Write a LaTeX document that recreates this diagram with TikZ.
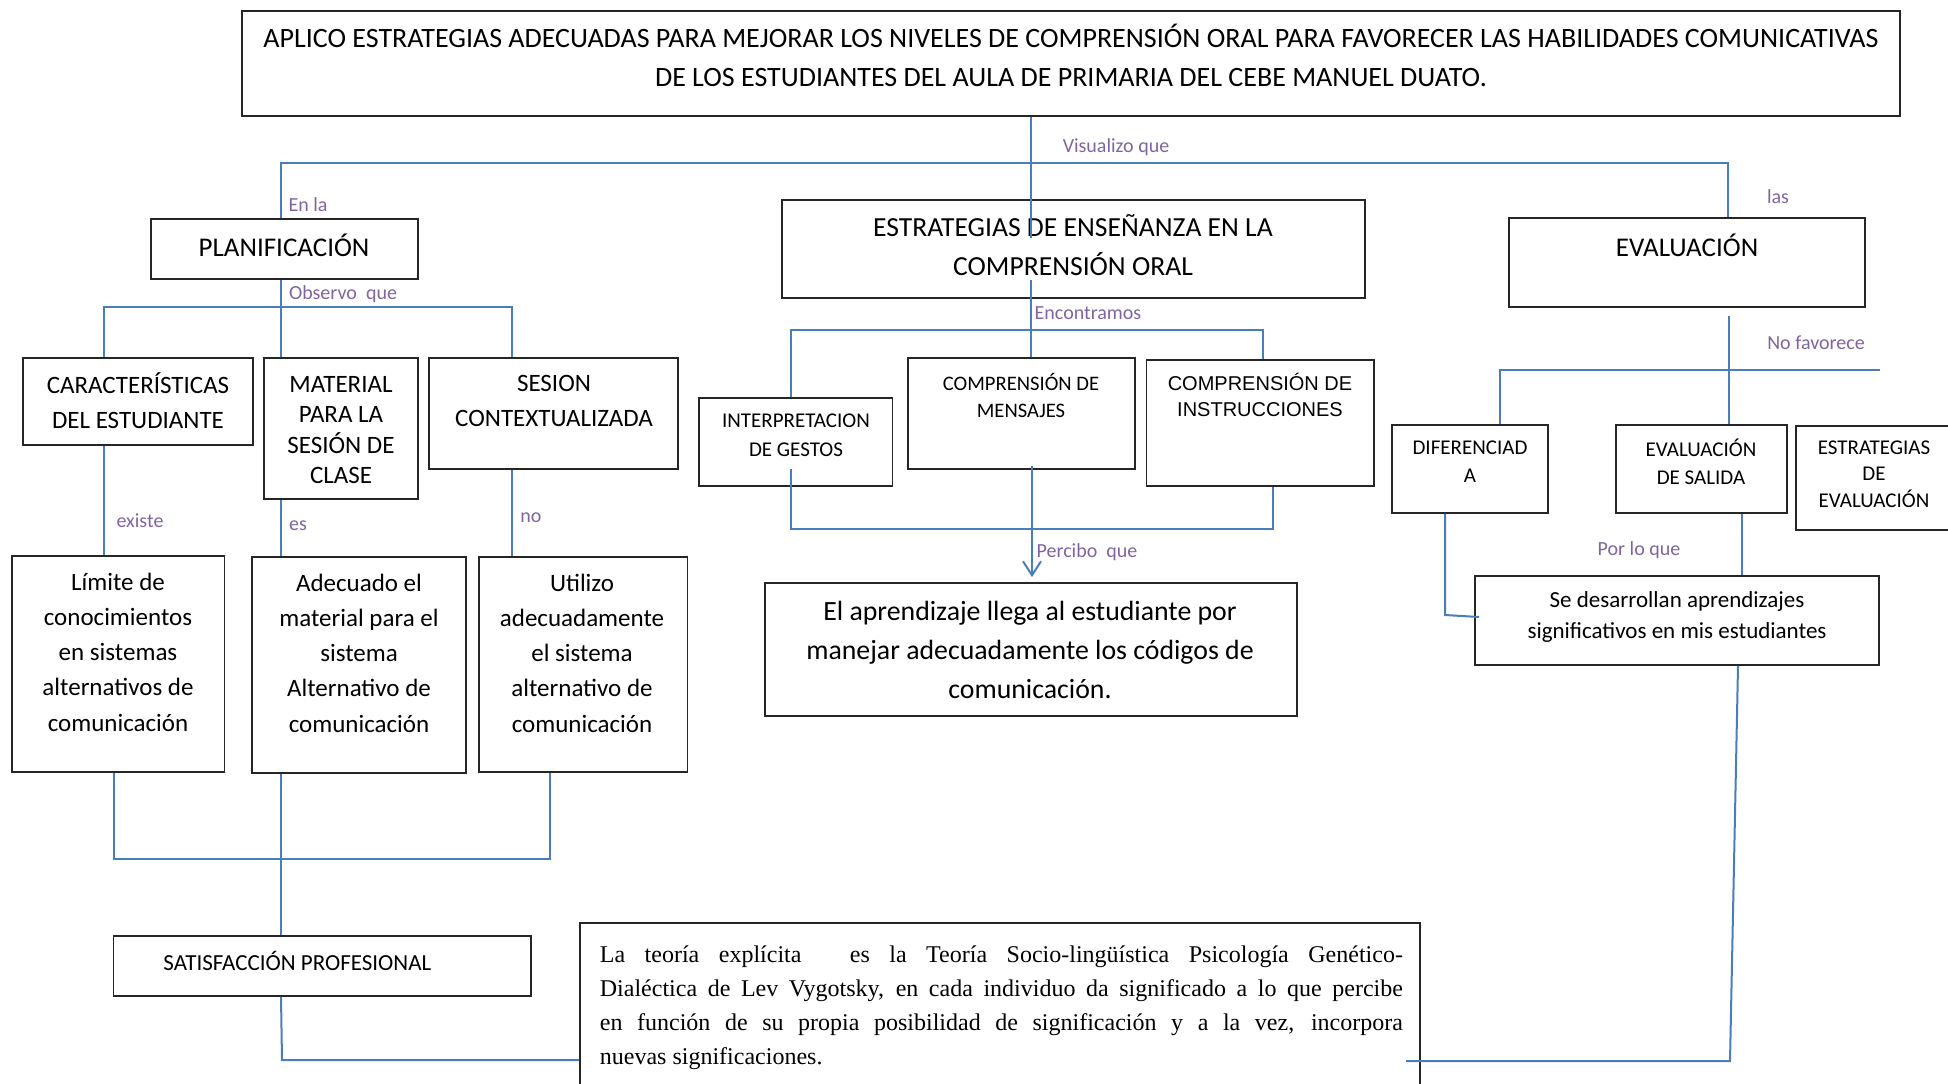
\documentclass[tikz,border=0pt]{standalone}
\usepackage{fontspec}
\setmainfont{Carlito}
\newfontfamily\tnrfont{Liberation Serif}
\newfontfamily\arialfont{Liberation Sans}
\usetikzlibrary{arrows.meta,fit}
\definecolor{connblue}{HTML}{4A7EBB}
\definecolor{lblpurple}{HTML}{8064A2}
\newcommand{\fsz}[2]{\fontsize{#1}{#2}\selectfont}
\begin{document}
\begin{tikzpicture}[x=0.5pt,y=-0.5pt,
  box/.style={draw=black!85, line width=0.9pt, inner sep=0pt},
  conn/.style={draw=connblue, line width=1pt},
  lbl/.style={text=lblpurple, font=\fsz{10}{12}, inner sep=0pt},
  txt/.style={align=center, inner sep=0pt},
]
\useasboundingbox (0,0) rectangle (1948,1083);
\clip (0,0) rectangle (1948,1083);

% ---------- boxes ----------
\node[box, fit={(242,11) (1900,116)}] (title) {};
\node[box, fit={(151,219) (418,279)}] (plan) {};
\node[box, fit={(782,200) (1365,298)}] (estr) {};
\node[box, fit={(1509,218) (1865,307)}] (eval) {};
\node[box, fit={(23,358) (253,445)}] (car) {};
\node[box, fit={(264,358) (418,499)}] (mat) {};
\node[box, fit={(429,358) (678,469)}] (ses) {};
\node[box, fit={(12,556) (224.5,772)}] (lim) {};
\node[box, fit={(252,557) (466,773)}] (ade) {};
\node[box, fit={(478.6,557) (687.5,772)}] (uti) {};
\node[box, fit={(699,398) (892.5,486)}] (int) {};
\node[box, fit={(907.7,358) (1135,469)}] (men) {};
\node[box, fit={(1146.5,360) (1374,486)}] (ins) {};
\node[box, fit={(765,583) (1297,716)}] (apr) {};
\node[box, fit={(1392,425) (1548,513)}] (dif) {};
\node[box, fit={(1616,425) (1787,513)}] (sal) {};
\node[box, fit={(1796,426) (2010,530)}] (ese) {};
\node[box, fit={(1475,576) (1879,665)}] (des) {};
\node[box, fit={(113.5,936) (531,996)}] (sat) {};
\node[box, fit={(580,923) (1420,1130)}] (teo) {};

% ---------- texts ----------
\node[txt, font=\fsz{14}{19.5}] (title-t) at (1071,55) {APLICO ESTRATEGIAS ADECUADAS PARA MEJORAR LOS NIVELES DE COMPRENSIÓN ORAL PARA FAVORECER LAS HABILIDADES COMUNICATIVAS\\DE LOS ESTUDIANTES DEL AULA DE PRIMARIA DEL CEBE MANUEL DUATO.};
\node[txt, font=\fsz{13.5}{16}] (plan-t) at (284,245) {PLANIFICACIÓN};
\node[txt, font=\fsz{13.8}{19.5}] (estr-t) at (1073,245.5) {ESTRATEGIAS DE ENSEÑANZA EN LA\\COMPRENSIÓN ORAL};
\node[txt, font=\fsz{13.5}{16}] (eval-t) at (1687,245) {EVALUACIÓN};
\node[txt, font=\fsz{12.5}{17.5}] (car-t) at (138,401) {CARACTERÍSTICAS\\DEL ESTUDIANTE};
\node[txt, font=\fsz{12.5}{15.3}] (mat-t) at (341,430) {MATERIAL\\PARA LA\\SESIÓN DE\\CLASE};
\node[txt, font=\fsz{12.5}{17.5}] (ses-t) at (554,401) {SESION\\CONTEXTUALIZADA};
\node[txt, font=\fsz{12.5}{17.6}] (lim-t) at (118,652) {Límite de\\conocimientos\\en sistemas\\alternativos de\\comunicación};
\node[txt, font=\fsz{12.5}{17.6}] (ade-t) at (359,653) {Adecuado el\\material para el\\sistema\\Alternativo de\\comunicación};
\node[txt, font=\fsz{12.5}{17.6}] (uti-t) at (582,653) {Utilizo\\adecuadamente\\el sistema\\alternativo de\\comunicación};
\node[txt, font=\fsz{10.5}{14.5}] (int-t) at (796,435) {INTERPRETACION\\DE GESTOS};
\node[txt, font=\fsz{10.3}{13.5}] (men-t) at (1021,395) {COMPRENSIÓN DE\\MENSAJES};
\node[txt, font=\arialfont\fsz{10}{13}] (ins-t) at (1260,395) {COMPRENSIÓN DE\\INSTRUCCIONES};
\node[txt, font=\fsz{13.9}{19.5}] (apr-t) at (1030,650) {El aprendizaje llega al estudiante por\\manejar adecuadamente los códigos de\\comunicación.};
\node[txt, font=\fsz{10.5}{14}] (dif-t) at (1470,462) {DIFERENCIAD\\A};
\node[txt, font=\fsz{10.5}{14}] (sal-t) at (1701,462) {EVALUACIÓN\\DE SALIDA};
\node[txt, font=\fsz{10.5}{13.25}] (ese-t) at (1874,474) {ESTRATEGIAS\\DE\\EVALUACIÓN};
\node[txt, font=\fsz{11.5}{15.5}] (des-t) at (1677,617) {Se desarrollan aprendizajes\\significativos en mis estudiantes};
\node[inner sep=0pt, anchor=west, font=\fsz{11.5}{13}] (sat-t) at (163,961) {SATISFACCIÓN PROFESIONAL};
\node[inner sep=0pt, anchor=north west, text width=401.5pt, align=justify, font=\tnrfont\fsz{12}{17}] (teo-t) at (599.5,945)
 {\hyphenpenalty=10000 La teoría explícita\hspace{1.2em} es la Teoría Socio-lingüística Psicología Genético-\linebreak Dialéctica de Lev Vygotsky, en cada individuo da significado a lo que percibe\linebreak en función de su propia posibilidad de significación y a la vez, incorpora\linebreak nuevas significaciones.};

% ---------- labels ----------
\node[lbl] (l-vis) at (1116,147) {Visualizo que};
\node[lbl] (l-enla) at (308,205) {En la};
\node[lbl] (l-las) at (1778,197) {las};
\node[lbl] (l-obs) at (343,294) {Observo\ \ que};
\node[lbl] (l-exi) at (140,521) {existe};
\node[lbl] (l-es) at (298,526) {es};
\node[lbl] (l-no) at (531,518) {no};
\node[lbl] (l-enc) at (1088,313) {Encontramos};
\node[lbl] (l-per) at (1087,552) {Percibo\ \ que};
\node[lbl] (l-nof) at (1816,343) {No favorece};
\node[lbl] (l-por) at (1639,550) {Por lo que};

% ---------- connector coordinates ----------
\coordinate (m1) at (1031,238);
\coordinate (m2) at (1031,280);
\coordinate (vL) at (281,163);
\coordinate (vR) at (1728,163);
\coordinate (oL) at (104,307);
\coordinate (oM) at (281,307);
\coordinate (oR) at (512,307);
\coordinate (bL) at (114,859);
\coordinate (bM) at (281,859);
\coordinate (bR) at (550,859);
\coordinate (sT) at (282,1060);
\coordinate (eL) at (791,330);
\coordinate (eR) at (1263,330);
\coordinate (lL) at (791,469);
\coordinate (lB) at (791,529);
\coordinate (lR) at (1273,529);
\coordinate (pA) at (1032,466);
\coordinate (vE) at (1729,316);
\coordinate (nL) at (1500,370);
\coordinate (nR) at (1880,370);
\coordinate (dX) at (1445,0);
\coordinate (dB) at (1445,615);
\coordinate (dE) at (1479,617);
\coordinate (sX) at (1741.5,0);
\coordinate (rX) at (1738,0);
\coordinate (rB) at (1730,1061);
\coordinate (rE) at (1406,1061);

% ---------- connectors ----------
\draw[conn] (title.south -| m1) -- (m1);
\draw[conn] (m2) -- (men.north -| m2);
\draw[conn] (plan.north -| vL) -- (vL) -- (vR) -- (eval.north -| vR);
\draw[conn] (plan.south -| oM) -- (oM);
\draw[conn] (car.north -| oL) -- (oL) -- (oR) -- (ses.north -| oR);
\draw[conn] (oM) -- (mat.north -| oM);
\draw[conn] (car.south -| oL) -- (lim.north -| oL);
\draw[conn] (mat.south -| oM) -- (ade.north -| oM);
\draw[conn] (ses.south -| oR) -- (uti.north -| oR);
\draw[conn] (lim.south -| bL) -- (bL) -- (bR) -- (uti.south -| bR);
\draw[conn] (ade.south -| bM) -- (sat.north -| bM);
\draw[conn] (sat.south -| bM) -- (sT) -- (teo.west |- sT);
\draw[conn] (int.north -| eL) -- (eL) -- (eR) -- (ins.north -| eR);
\draw[conn] (lL) -- (lB) -- (lR) -- (ins.south -| lR);
\draw[conn, -{Straight Barb[length=7pt,width=9pt]}, shorten >=2.5pt] (pA) -- (apr.north -| pA);
\draw[conn] (vE) -- (sal.north -| vE);
\draw[conn] (dif.north -| nL) -- (nL) -- (nR);
\draw[conn] (dif.south -| dX) -- (dB) -- (dE);
\draw[conn] (sal.south -| sX) -- (des.north -| sX);
\draw[conn] (des.south -| rX) -- (rB) -- (rE);
\end{tikzpicture}
\end{document}
